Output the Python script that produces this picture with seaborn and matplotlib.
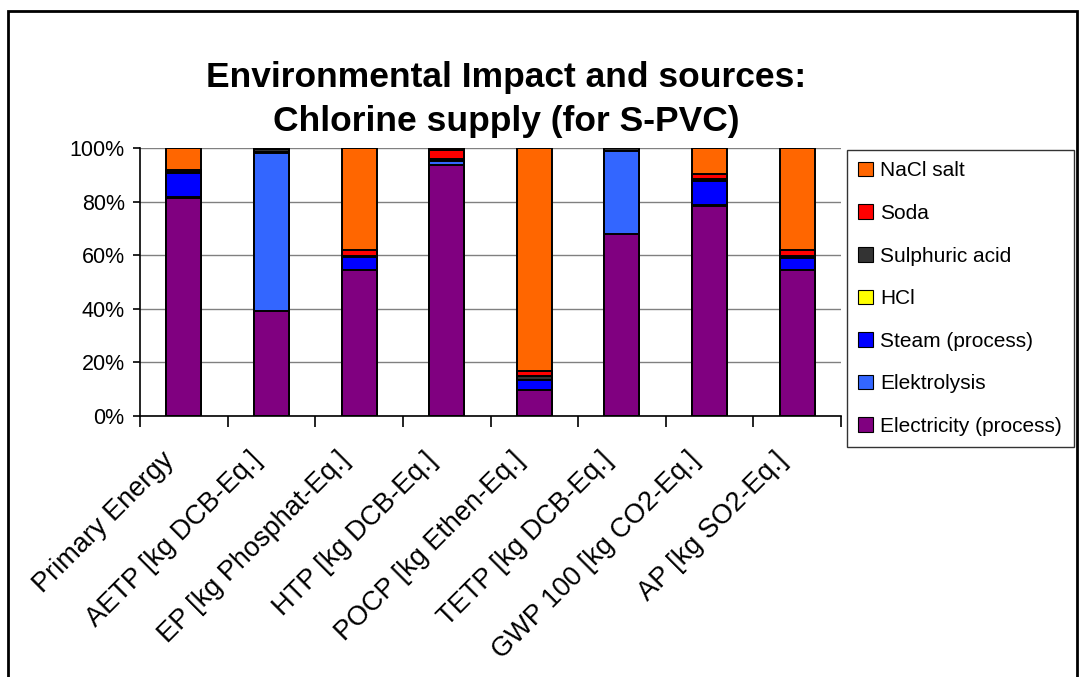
import matplotlib
matplotlib.use("Agg")
import matplotlib.pyplot as plt
import matplotlib.transforms as mtransforms
import seaborn as sns
import numpy as np
import pandas as pd
from matplotlib.patches import Patch, Rectangle

categories = ["Primary Energy", "AETP [kg DCB-Eq.]", "EP [kg Phosphat-Eq.]",
              "HTP [kg DCB-Eq.]", "POCP [kg Ethen-Eq.]", "TETP [kg DCB-Eq.]",
              "GWP 100 [kg CO2-Eq.]", "AP [kg SO2-Eq.]"]

electricity = [81.0, 39.1, 54.3, 93.5, 9.7, 67.9, 78.5, 54.3]
elektrolysis = [0.2, 59.0, 0.2, 1.5, 0.1, 30.9, 0.1, 0.1]
steam = [8.9, 0.3, 4.6, 0.3, 3.5, 0.1, 9.2, 4.2]
hcl = [0.0, 0.0, 0.0, 0.0, 0.0, 0.0, 0.0, 0.0]
sulphuric = [0.4, 1.0, 0.7, 0.5, 1.5, 1.1, 0.7, 1.1]
soda = [0.6, 0.2, 1.9, 3.4, 1.9, 0.0, 1.7, 2.0]
nacl = [8.3, 0.2, 38.2, 0.8, 83.4, 0.0, 9.8, 38.0]

series_names = ["Electricity (process)", "Elektrolysis", "Steam (process)", "HCl",
                "Sulphuric acid", "Soda", "NaCl salt"]
series_values = [electricity, elektrolysis, steam, hcl, sulphuric, soda, nacl]
series_colors = ["#800080", "#3366FF", "#0000FF", "#FFFF00", "#333333", "#FF0000", "#FF6600"]

sns.set_theme(style="white")
plt.rcParams['font.family'] = ['Liberation Sans', 'DejaVu Sans']
plt.rcParams['text.color'] = 'black'
plt.rcParams['xtick.color'] = 'black'
plt.rcParams['ytick.color'] = 'black'
plt.rcParams['axes.labelcolor'] = 'black'

vals = np.array(series_values, dtype=float)
shares = vals / vals.sum(axis=0) * 100
cum = np.cumsum(shares, axis=0)

fig = plt.figure(figsize=(10.8, 6.77), dpi=100)
ax = fig.add_axes([140/1080, 1-416/677, (841-140)/1080, (416-148)/677])

# draw from top layer down so lower layers overlay
for i in range(len(series_names) - 1, -1, -1):
    df = pd.DataFrame({"cat": categories, "val": cum[i]})
    sns.barplot(data=df, x="cat", y="val", color=series_colors[i], saturation=1,
                width=0.4, edgecolor="black", linewidth=1.4, ax=ax, zorder=3)

ax.set_ylim(0, 100)
ax.set_xlim(-0.5, len(categories) - 0.5)
ax.set_yticks(np.arange(0, 101, 20))
ax.set_yticklabels([f"{v}%" for v in range(0, 101, 20)], fontsize=15.5)
ax.yaxis.grid(True, color="#808080", linewidth=1.0, zorder=0)
ax.set_axisbelow(True)
ax.set_xlabel("")
ax.set_ylabel("")

# x ticks at category boundaries, labels in centers
ax.set_xticks(np.arange(len(categories)))
ax.set_xticklabels(categories, rotation=45, ha="right", va="top",
                   rotation_mode="anchor", fontsize=19.5)
ax.tick_params(axis="x", which="major", length=0, pad=0, bottom=True)
offset = mtransforms.ScaledTranslation(-0.23, -0.31, fig.dpi_scale_trans)
for lbl in ax.get_xticklabels():
    lbl.set_transform(lbl.get_transform() + offset)
ax.set_xticks(np.arange(-0.5, len(categories)), minor=True)
ax.tick_params(axis="x", which="minor", length=8, width=1.2, color="black",
               direction="out", bottom=True)
ax.tick_params(axis="y", length=5, width=1.2, color="black", direction="out", left=True, pad=6)

for s in ["top", "right"]:
    ax.spines[s].set_visible(False)
for s in ["left", "bottom"]:
    ax.spines[s].set_color("black")
    ax.spines[s].set_linewidth(1.2)
    ax.spines[s].set_zorder(5)

handles = [Patch(facecolor=series_colors[i], edgecolor="black", linewidth=0.8, label=series_names[i])
           for i in range(len(series_names) - 1, -1, -1)]
leg = fig.legend(handles=handles, loc="upper left",
                 bbox_to_anchor=(847/1080, 1-150/677), fontsize=15,
                 frameon=True, fancybox=False, edgecolor="black",
                 handlelength=0.7, handleheight=0.7, handletextpad=0.35,
                 labelspacing=1.13, borderpad=0.55, borderaxespad=0)
leg.get_frame().set_linewidth(1.0)

fig.text(506/1080, 1-78/677, "Environmental Impact and sources:", ha="center", va="center",
         fontsize=25.5, fontweight="bold")
fig.text(506/1080, 1-121/677, "Chlorine supply (for S-PVC)", ha="center", va="center",
         fontsize=25.5, fontweight="bold")

fig.patches.append(Rectangle((8/1080, -0.05), (1077-8)/1080, 1.05 - 11/677,
                             transform=fig.transFigure, fill=False,
                             edgecolor="black", linewidth=2))

fig.savefig("out.png", dpi=100)
